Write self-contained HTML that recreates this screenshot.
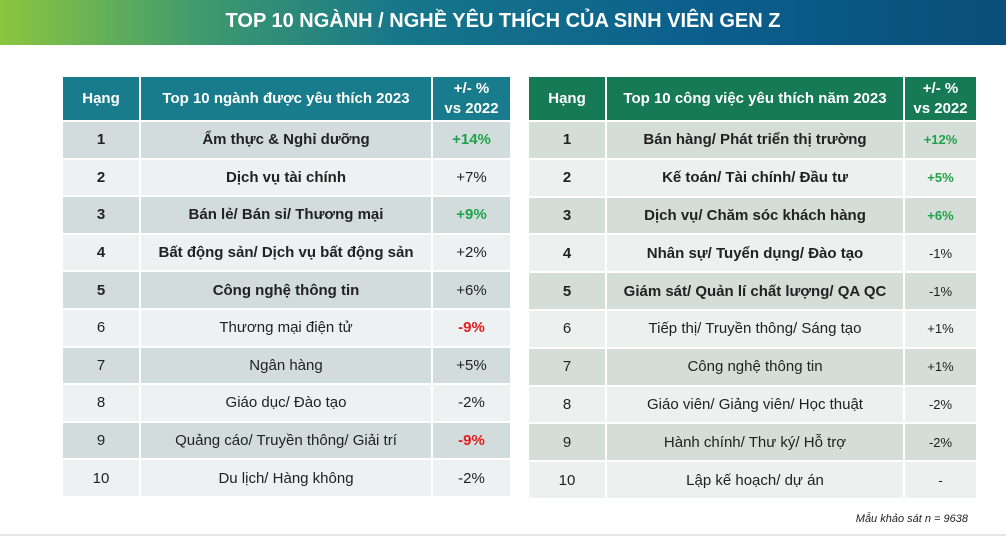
<!DOCTYPE html>
<html><head><meta charset="utf-8"><style>
body{margin:0;width:1006px;height:537px;background:#fff;position:relative;overflow:hidden;font-family:"Liberation Sans","DejaVu Sans",sans-serif}
.hdr{position:absolute;left:0;top:0;width:1006px;height:45px;background:linear-gradient(90deg,#8cc63f 0%,#3f9a6e 20%,#16768a 40%,#0b5f8c 70%,#0a4e7a 100%);color:#fff;font-weight:bold;font-size:20px;text-align:center;line-height:43px}
table{position:absolute;border-collapse:collapse;table-layout:fixed;font-size:15px;color:#222}
td{text-align:center;padding:0;border:2px solid #fff}
thead td{color:#fff;font-weight:bold;font-size:15px;line-height:20px}
.L thead td{background:#187c8c;height:43px}
.R thead td{background:#167a57;height:43px}
.L tbody td{height:35.6px}
.R tbody td{height:35.8px}
.L tbody tr:nth-child(odd) td{background:#d3dcdd}
.L tbody tr:nth-child(even) td{background:#edf1f1}
.R tbody tr:nth-child(odd) td{background:#d5ddd9}
.R tbody tr:nth-child(even) td{background:#ecf0ee}
.b td{font-weight:bold}
.g{color:#1fa34a!important;font-weight:bold}
.r{color:#e02020!important;font-weight:bold}
.R tbody td:last-child{font-size:13px}
.note{position:absolute;right:38px;top:513px;font-size:11px;font-style:italic;color:#222}
.line{position:absolute;left:0;top:534px;width:1006px;height:2px;background:#e6e6e6}
</style></head><body>
<div class="hdr">TOP 10 NGÀNH / NGHỀ YÊU THÍCH CỦA SINH VIÊN GEN Z</div>
<table class="L" style="left:61px;top:75px;width:449px">
<colgroup><col style="width:78px"><col style="width:292px"><col style="width:79px"></colgroup>
<thead><tr><td>Hạng</td><td>Top 10 ngành được yêu thích 2023</td><td>+/- %<br>vs 2022</td></tr></thead>
<tbody>
<tr class="b"><td>1</td><td>Ẩm thực &amp; Nghỉ dưỡng</td><td class="g">+14%</td></tr>
<tr class="b"><td>2</td><td>Dịch vụ tài chính</td><td style="font-weight:normal">+7%</td></tr>
<tr class="b"><td>3</td><td>Bán lẻ/ Bán sỉ/ Thương mại</td><td class="g">+9%</td></tr>
<tr class="b"><td>4</td><td>Bất động sản/ Dịch vụ bất động sản</td><td style="font-weight:normal">+2%</td></tr>
<tr class="b"><td>5</td><td>Công nghệ thông tin</td><td style="font-weight:normal">+6%</td></tr>
<tr><td>6</td><td>Thương mại điện tử</td><td class="r">-9%</td></tr>
<tr><td>7</td><td>Ngân hàng</td><td>+5%</td></tr>
<tr><td>8</td><td>Giáo dục/ Đào tạo</td><td>-2%</td></tr>
<tr><td>9</td><td>Quảng cáo/ Truyền thông/ Giải trí</td><td class="r">-9%</td></tr>
<tr><td>10</td><td>Du lịch/ Hàng không</td><td>-2%</td></tr>
</tbody></table>
<table class="R" style="left:527px;top:75px;width:449px">
<colgroup><col style="width:78px"><col style="width:298px"><col style="width:73px"></colgroup>
<thead><tr><td>Hạng</td><td>Top 10 công việc yêu thích năm 2023</td><td>+/- %<br>vs 2022</td></tr></thead>
<tbody>
<tr class="b"><td>1</td><td>Bán hàng/ Phát triển thị trường</td><td class="g">+12%</td></tr>
<tr class="b"><td>2</td><td>Kế toán/ Tài chính/ Đầu tư</td><td class="g">+5%</td></tr>
<tr class="b"><td>3</td><td>Dịch vụ/ Chăm sóc khách hàng</td><td class="g">+6%</td></tr>
<tr class="b"><td>4</td><td>Nhân sự/ Tuyển dụng/ Đào tạo</td><td style="font-weight:normal">-1%</td></tr>
<tr class="b"><td>5</td><td>Giám sát/ Quản lí chất lượng/ QA QC</td><td style="font-weight:normal">-1%</td></tr>
<tr><td>6</td><td>Tiếp thị/ Truyền thông/ Sáng tạo</td><td>+1%</td></tr>
<tr><td>7</td><td>Công nghệ thông tin</td><td>+1%</td></tr>
<tr><td>8</td><td>Giáo viên/ Giảng viên/ Học thuật</td><td>-2%</td></tr>
<tr><td>9</td><td>Hành chính/ Thư ký/ Hỗ trợ</td><td>-2%</td></tr>
<tr><td>10</td><td>Lập kế hoạch/ dự án</td><td>-</td></tr>
</tbody></table>
<div class="note">Mẫu khảo sát n = 9638</div>
<div class="line"></div>
</body></html>
